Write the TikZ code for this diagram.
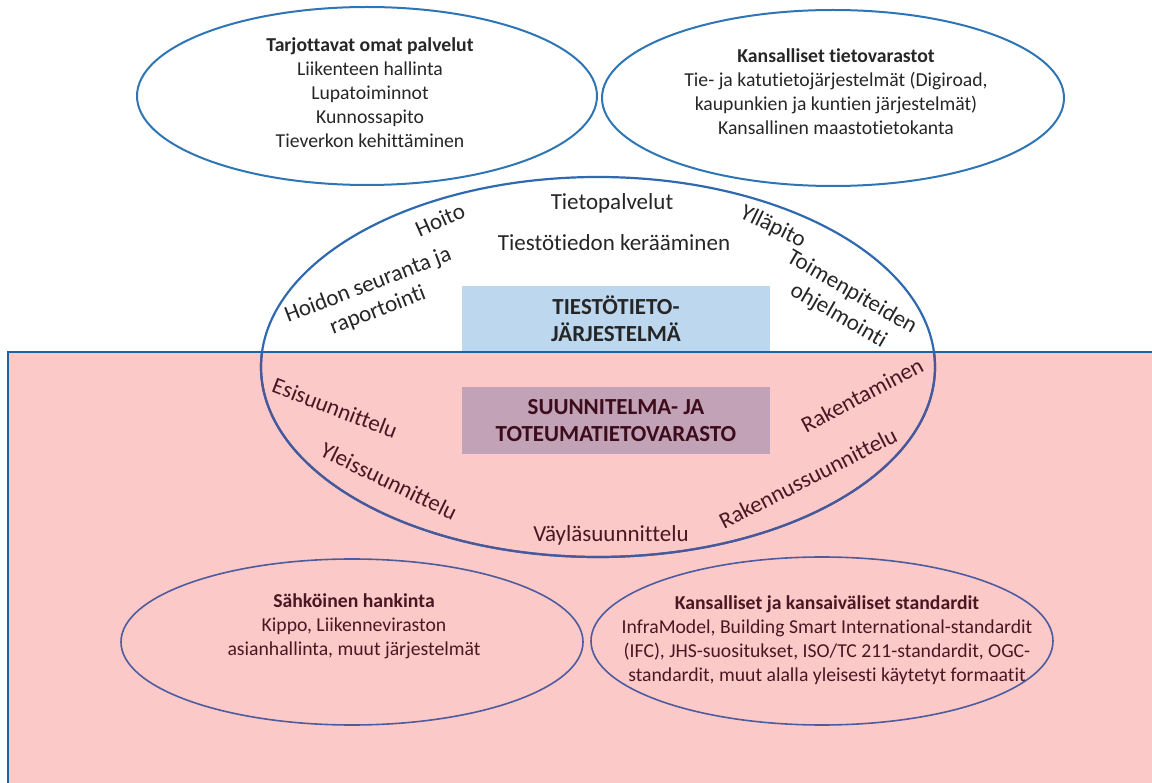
\documentclass[tikz,border=0pt]{standalone}
\usepackage{fontspec}
\setmainfont{Carlito}[Ligatures=NoCommon]
\usetikzlibrary{shapes.geometric}
\definecolor{pinkbg}{RGB}{252,201,201}
\definecolor{rectline}{RGB}{30,98,160}
\definecolor{topell}{RGB}{46,117,182}
\definecolor{coreup}{RGB}{47,105,175}
\definecolor{corelow}{RGB}{72,88,152}
\definecolor{botell}{RGB}{78,92,158}
\definecolor{bluebox}{RGB}{189,215,238}
\definecolor{mauvebox}{RGB}{194,162,182}
\definecolor{txtdark}{RGB}{38,38,38}
\definecolor{txtmaroon}{RGB}{74,22,34}
\definecolor{txtbox}{RGB}{61,12,26}
\begin{document}
\begin{tikzpicture}[x=1pt,y=-1pt,
  every node/.style={font=\fontsize{19.7}{24}\selectfont, inner sep=0pt, outer sep=0pt},
  oval/.style={ellipse, inner sep=0pt},
  topoval/.style={oval, draw=topell, line width=2pt},
  botoval/.style={oval, draw=botell, line width=1.6pt},
  uptxt/.style={text=txtdark, align=center},
  lowtxt/.style={text=txtmaroon, align=center},
  corelbl/.style={font=\fontsize{23}{27}\selectfont},
  boxtxt/.style={align=center, font=\fontsize{23}{27}\selectfont\bfseries}]
\useasboundingbox (0,0) rectangle (1152,783);
% pink region
\fill[pinkbg] (8,352) rectangle (1152,783);
\draw[rectline, line width=2.5pt] (1152,352) -- (8,352) -- (8,783);
% boxes
\node[fill=bluebox, minimum width=308, minimum height=65, boxtxt, text=black!85] (tsys) at (616,318.5) {TIESTÖTIETO-\\JÄRJESTELMÄ};
\node[fill=mauvebox, minimum width=308, minimum height=67, boxtxt, text=txtbox] (store) at (616,420.5) {SUUNNITELMA- JA\\TOTEUMATIETOVARASTO};
% top ellipses
\node[topoval, minimum width=460, minimum height=178] (own) at (367,96) {};
\node[uptxt] (owntxt) at (370,93) {\textbf{Tarjottavat omat palvelut}\\Liikenteen hallinta\\Lupatoiminnot\\Kunnossapito\\Tieverkon kehittäminen};
\node[topoval, minimum width=462, minimum height=176] (nat) at (833,98) {};
\node[uptxt] (nattxt) at (836,92) {\textbf{Kansalliset tietovarastot}\\Tie- ja katutietojärjestelmät (Digiroad,\\kaupunkien ja kuntien järjestelmät)\\Kansallinen maastotietokanta};
% core ellipse
\node[oval, draw=coreup, line width=2.2pt, minimum width=674, minimum height=380] (core) at (598,367) {};
\begin{scope}
\clip (0,353) rectangle (1152,783);
\draw[corelow, line width=2.2pt] (core.center) ellipse [x radius=337, y radius=190];
\end{scope}
% labels in core ellipse
\node[uptxt, corelbl] (tp) at (612,203) {Tietopalvelut};
\node[uptxt, corelbl] (tk) at (614,243) {Tiestötiedon kerääminen};
\node[uptxt, corelbl, rotate=24] (hoito) at (440,220) {Hoito};
\node[uptxt, corelbl, rotate=21] (hseur) at (373,298) {Hoidon seuranta ja\\raportointi};
\node[uptxt, corelbl, rotate=-26] (yll) at (773,227) {Ylläpito};
\node[uptxt, corelbl, rotate=-30] (toim) at (845,304) {Toimenpiteiden\\ohjelmointi};
\node[lowtxt, corelbl, rotate=-21] (esi) at (335,408) {Esisuunnittelu};
\node[lowtxt, corelbl, rotate=-26] (yleis) at (389,481) {Yleissuunnittelu};
\node[lowtxt, corelbl] (vayla) at (611,535) {Väyläsuunnittelu};
\node[lowtxt, corelbl, rotate=28] (rak) at (862,395) {Rakentaminen};
\node[lowtxt, corelbl, rotate=27] (rsuun) at (808,478) {Rakennussuunnittelu};
% bottom ellipses
\node[botoval, minimum width=462, minimum height=166] (proc) at (352,642) {};
\node[lowtxt] (proctxt) at (354,626) {\textbf{Sähköinen hankinta}\\Kippo, Liikenneviraston\\asianhallinta, muut järjestelmät};
\node[botoval, minimum width=462, minimum height=168] (std) at (822,641) {};
\node[lowtxt] (stdtxt) at (827,640) {\textbf{Kansalliset ja kansaiväliset standardit}\\InfraModel, Building Smart International-standardit\\(IFC), JHS-suositukset, ISO/TC 211-standardit, OGC-\\standardit, muut alalla yleisesti käytetyt formaatit};
\end{tikzpicture}
\end{document}
